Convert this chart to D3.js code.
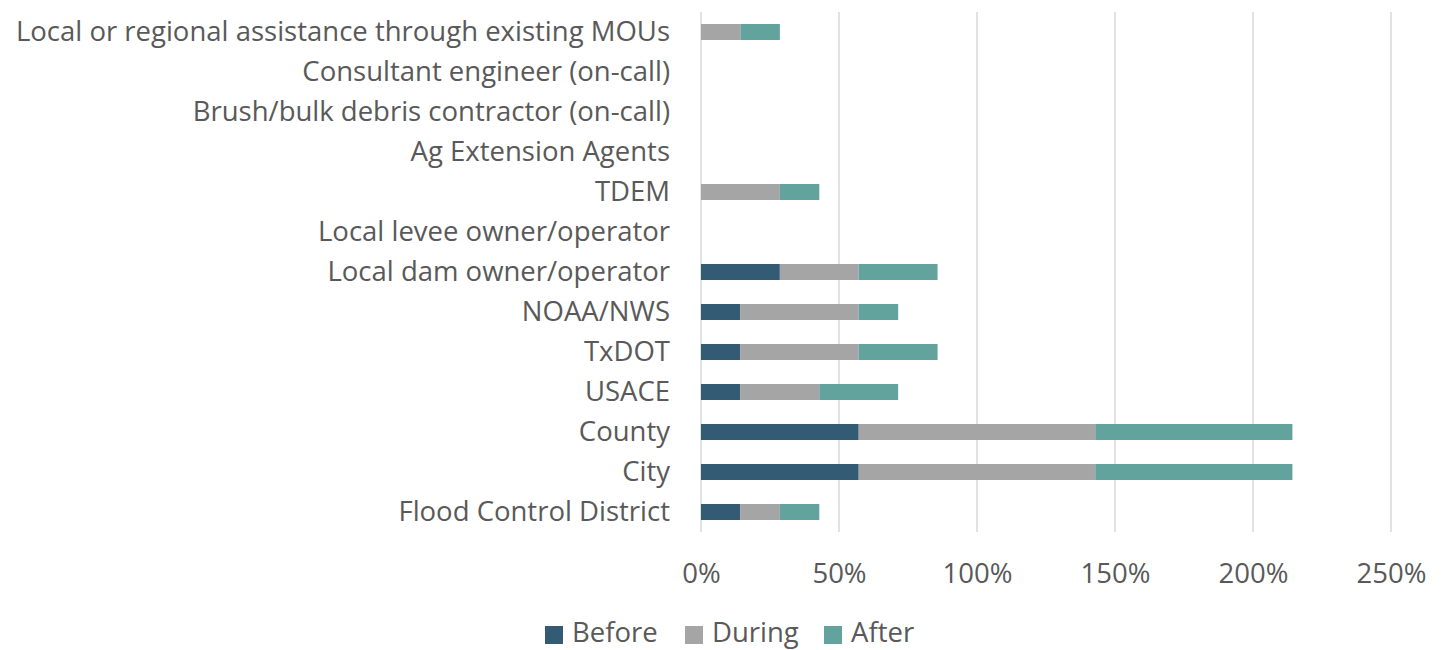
<!DOCTYPE html>
<html>
<head>
<meta charset="utf-8">
<script src="https://cdn.jsdelivr.net/npm/d3@7"></script>
<style>
  html, body { margin: 0; padding: 0; background: #fff; }
  svg { display: block; }
  text { font-family: "Open Sans", sans-serif; fill: #595959; }
</style>
</head>
<body>
<svg id="chart" width="1446" height="650"></svg>
<script>
// Resource categories, listed bottom to top as they appear on the axis
const categories = [
  "Flood Control District",
  "City",
  "County",
  "USACE",
  "TxDOT",
  "NOAA/NWS",
  "Local dam owner/operator",
  "Local levee owner/operator",
  "TDEM",
  "Ag Extension Agents",
  "Brush/bulk debris contractor (on-call)",
  "Consultant engineer (on-call)",
  "Local or regional assistance through existing MOUs"
];

// Share of respondents (%) per phase
const before = [14.29, 57.14, 57.14, 14.29, 14.29, 14.29, 28.57, 0, 0, 0, 0, 0, 0];
const during = [14.29, 85.71, 85.71, 28.57, 42.86, 42.86, 28.57, 0, 28.57, 0, 0, 0, 14.29];
const after  = [14.29, 71.43, 71.43, 28.57, 28.57, 14.29, 28.57, 0, 14.29, 0, 0, 0, 14.29];

const seriesNames = ["Before", "During", "After"];
const seriesColors = ["#335b74", "#a5a5a5", "#63a39e"];
const xTicks = [0, 50, 100, 150, 200, 250];

const FONT_SIZE = "27.5px";
const svg = d3.select("#chart");
const margin = { left: 701, right: 55, top: 12, bottom: 118 };
const W = 1446, H = 650;

const x = d3.scaleLinear().domain([0, 250]).range([margin.left, W - margin.right]);
const y = d3.scaleBand()
  .domain(categories.slice().reverse())
  .range([margin.top, H - margin.bottom])
  .paddingInner(0.6).paddingOuter(0.3);

// Vertical gridlines
svg.append("g")
  .selectAll("line")
  .data(xTicks)
  .join("line")
  .attr("x1", d => x(d)).attr("x2", d => x(d))
  .attr("y1", margin.top).attr("y2", H - margin.bottom)
  .attr("stroke", "#d9d9d9").attr("stroke-width", 1.5);

// Stacked bars
const rows = categories.map((c, i) => ({ cat: c, Before: before[i], During: during[i], After: after[i] }));
const stack = d3.stack().keys(seriesNames)(rows);

svg.append("g")
  .selectAll("g")
  .data(stack)
  .join("g")
  .attr("fill", (d, i) => seriesColors[i])
  .selectAll("rect")
  .data(d => d.filter(s => s[1] - s[0] > 0))
  .join("rect")
  .attr("x", d => x(d[0]))
  .attr("width", d => x(d[1]) - x(d[0]))
  .attr("y", d => y(d.data.cat))
  .attr("height", y.bandwidth());

// Category axis labels
const yAxis = d3.axisLeft(y).tickSize(0).tickPadding(31);
const gy = svg.append("g").attr("transform", `translate(${margin.left},0)`).call(yAxis);
gy.select(".domain").remove();
gy.selectAll("text")
  .style("font-family", "'Open Sans', sans-serif")
  .style("font-size", FONT_SIZE)
  .attr("fill", "#595959");

// Percentage axis labels
const xAxis = d3.axisBottom(x).tickValues(xTicks).tickFormat(d => d + "%").tickSize(0).tickPadding(31);
const gx = svg.append("g").attr("transform", `translate(0,${H - margin.bottom})`).call(xAxis);
gx.select(".domain").remove();
gx.selectAll("text")
  .style("font-family", "'Open Sans', sans-serif")
  .style("font-size", FONT_SIZE)
  .attr("fill", "#595959");

// Legend
const legendX = [545, 685, 824];
const legend = svg.append("g").selectAll("g")
  .data(seriesNames)
  .join("g")
  .attr("transform", (d, i) => `translate(${legendX[i]},626)`);
legend.append("rect").attr("width", 18).attr("height", 18).attr("fill", (d, i) => seriesColors[i]);
legend.append("text")
  .attr("x", 27).attr("y", 16)
  .style("font-size", FONT_SIZE)
  .text(d => d);
</script>
</body>
</html>
